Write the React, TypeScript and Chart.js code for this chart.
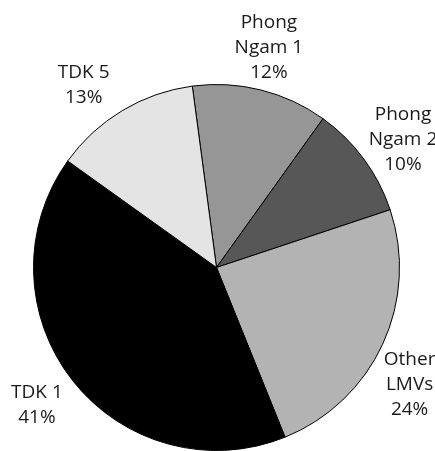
import React, { useEffect, useRef } from "react";
import { Chart, registerables } from "chart.js";

Chart.register(...registerables);

const categories = ["Phong Ngam 1", "Phong Ngam 2", "Other LMVs", "TDK 1", "TDK 5"];
const shares = [12, 10, 24, 41, 13];
const sliceColors = ["#969696", "#575757", "#b3b3b3", "#000000", "#e4e4e4"];

function wrapWords(ctx: CanvasRenderingContext2D, text: string, maxWidth: number): string[] {
  const words = text.split(" ");
  const lines: string[] = [];
  let cur = "";
  for (const w of words) {
    const trial = cur ? cur + " " + w : w;
    if (cur && ctx.measureText(trial).width > maxWidth) {
      lines.push(cur);
      cur = w;
    } else {
      cur = trial;
    }
  }
  if (cur) lines.push(cur);
  return lines;
}

const outsideLabels = {
  id: "outsideLabels",
  afterDatasetsDraw(chart: any, _args: any, opts: any) {
    const ctx: CanvasRenderingContext2D = chart.ctx;
    const meta = chart.getDatasetMeta(0);
    const values: number[] = chart.data.datasets[0].data;
    const total = values.reduce((a, b) => a + b, 0);
    ctx.save();
    ctx.font = opts.font;
    ctx.fillStyle = opts.color;
    ctx.textAlign = "center";
    ctx.textBaseline = "middle";
    meta.data.forEach((arc: any, i: number) => {
      const p = arc.getProps(["x", "y", "startAngle", "endAngle", "outerRadius"], true);
      const shift = ((opts.angleShift && opts.angleShift[i]) || 0) * Math.PI / 180;
      const mid = (p.startAngle + p.endAngle) / 2 + shift;
      const dist = p.outerRadius + opts.offset;
      const cx = p.x + Math.cos(mid) * dist;
      const cy = p.y + Math.sin(mid) * dist;
      const lines = wrapWords(ctx, String(chart.data.labels[i]), opts.maxWidth);
      lines.push(Math.round((values[i] / total) * 100) + "%");
      const n = lines.length;
      lines.forEach((ln, k) => {
        ctx.fillText(ln, cx, cy + (k - (n - 1) / 2) * opts.lineHeight);
      });
    });
    ctx.restore();
  },
};

export default function App() {
  const canvasRef = useRef<HTMLCanvasElement | null>(null);

  useEffect(() => {
    const canvas = canvasRef.current;
    if (!canvas) return;
    const chart = new Chart(canvas, {
      type: "pie",
      data: {
        labels: categories,
        datasets: [
          {
            data: shares,
            backgroundColor: sliceColors,
            borderColor: "#000000",
            borderWidth: 1,
          },
        ],
      },
      options: {
        responsive: false,
        animation: false,
        rotation: -7.6,
        layout: { padding: { left: 33, right: 35, top: 84, bottom: 0 } },
        plugins: {
          legend: { display: false },
          tooltip: { enabled: false },
          outsideLabels: {
            font: "19px 'Open Sans'",
            color: "#1a1a1a",
            lineHeight: 25,
            maxWidth: 80,
            offset: 43,
            angleShift: [-0.6, 2, 6.5, 0.8, -5],
          },
        } as any,
      },
      plugins: [outsideLabels],
    });
    return () => chart.destroy();
  }, []);

  return (
    <div style={{ position: "absolute", left: 0, top: 0, width: 435, height: 451, overflow: "hidden", background: "#ffffff" }}>
      <canvas ref={canvasRef} width={435} height={451} style={{ display: "block" }} />
    </div>
  );
}
